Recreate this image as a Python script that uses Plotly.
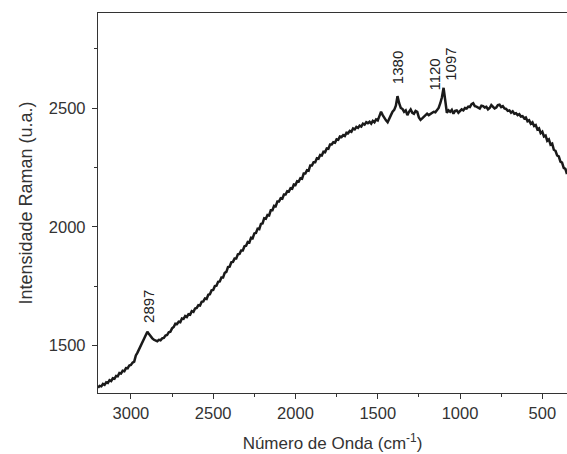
import plotly.graph_objects as go

wavenumber = [3200, 3190, 3180, 3170, 3160, 3150, 3140, 3130, 3120, 3110,
              3100, 3090, 3080, 3070, 3060, 3050, 3040, 3030, 3020, 3010,
              3000, 2990, 2980, 2970, 2960, 2950, 2940, 2930, 2920, 2910,
              2900, 2890, 2880, 2870, 2860, 2850, 2840, 2830, 2820, 2810,
              2800, 2790, 2780, 2770, 2760, 2750, 2740, 2730, 2720, 2710,
              2700, 2690, 2680, 2670, 2660, 2650, 2640, 2630, 2620, 2610,
              2600, 2590, 2580, 2570, 2560, 2550, 2540, 2530, 2520, 2510,
              2500, 2490, 2480, 2470, 2460, 2450, 2440, 2430, 2420, 2410,
              2400, 2390, 2380, 2370, 2360, 2350, 2340, 2330, 2320, 2310,
              2300, 2290, 2280, 2270, 2260, 2250, 2240, 2230, 2220, 2210,
              2200, 2190, 2180, 2170, 2160, 2150, 2140, 2130, 2120, 2110,
              2100, 2090, 2080, 2070, 2060, 2050, 2040, 2030, 2020, 2010,
              2000, 1990, 1980, 1970, 1960, 1950, 1940, 1930, 1920, 1910,
              1900, 1890, 1880, 1870, 1860, 1850, 1840, 1830, 1820, 1810,
              1800, 1790, 1780, 1770, 1760, 1750, 1740, 1730, 1720, 1710,
              1700, 1690, 1680, 1670, 1660, 1650, 1640, 1630, 1620, 1610,
              1600, 1590, 1580, 1570, 1560, 1550, 1540, 1530, 1520, 1510,
              1500, 1490, 1480, 1470, 1460, 1450, 1440, 1430, 1420, 1410,
              1400, 1390, 1380, 1370, 1360, 1350, 1340, 1330, 1320, 1310,
              1300, 1290, 1280, 1270, 1260, 1250, 1240, 1230, 1220, 1210,
              1200, 1190, 1180, 1170, 1160, 1150, 1140, 1130, 1120, 1110,
              1100, 1090, 1080, 1070, 1060, 1050, 1040, 1030, 1020, 1010,
              1000, 990, 980, 970, 960, 950, 940, 930, 920, 910,
              900, 890, 880, 870, 860, 850, 840, 830, 820, 810,
              800, 790, 780, 770, 760, 750, 740, 730, 720, 710,
              700, 690, 680, 670, 660, 650, 640, 630, 620, 610,
              600, 590, 580, 570, 560, 550, 540, 530, 520, 510,
              500, 490, 480, 470, 460, 450, 440, 430, 420, 410,
              400, 390, 380, 370, 360, 350]

intensity = [1322, 1330, 1328, 1338, 1334, 1345, 1342, 1354, 1350, 1362,
             1360, 1372, 1370, 1384, 1382, 1394, 1392, 1405, 1404, 1416,
             1418, 1428, 1432, 1458, 1470, 1486, 1498, 1514, 1528, 1544,
             1558, 1548, 1536, 1530, 1524, 1522, 1518, 1524, 1522, 1530,
             1532, 1542, 1544, 1556, 1558, 1572, 1578, 1592, 1590, 1600,
             1598, 1614, 1612, 1624, 1620, 1632, 1630, 1645, 1642, 1656,
             1658, 1670, 1668, 1684, 1686, 1698, 1696, 1714, 1716, 1732,
             1734, 1750, 1752, 1768, 1770, 1786, 1786, 1806, 1810, 1830,
             1832, 1850, 1852, 1866, 1866, 1884, 1886, 1900, 1900, 1918,
             1920, 1936, 1934, 1954, 1952, 1972, 1974, 1992, 1990, 2012,
             2014, 2036, 2034, 2050, 2048, 2070, 2070, 2088, 2086, 2106,
             2106, 2120, 2118, 2136, 2136, 2150, 2148, 2162, 2160, 2178,
             2176, 2192, 2190, 2204, 2202, 2224, 2224, 2238, 2236, 2258,
             2258, 2272, 2272, 2288, 2286, 2302, 2300, 2316, 2314, 2330,
             2328, 2346, 2346, 2356, 2354, 2368, 2366, 2380, 2378, 2386,
             2382, 2396, 2394, 2404, 2400, 2414, 2410, 2420, 2416, 2426,
             2422, 2434, 2430, 2440, 2436, 2442, 2434, 2446, 2440, 2452,
             2448, 2466, 2484, 2470, 2456, 2448, 2440, 2458, 2470, 2484,
             2492, 2510, 2550, 2520, 2500, 2496, 2484, 2490, 2470, 2484,
             2494, 2480, 2476, 2488, 2484, 2460, 2450, 2456, 2462, 2470,
             2476, 2470, 2474, 2480, 2484, 2482, 2490, 2500, 2520, 2545,
             2585, 2540, 2480, 2490, 2484, 2492, 2476, 2488, 2490, 2480,
             2486, 2494, 2490, 2500, 2498, 2506, 2504, 2516, 2520, 2508,
             2506, 2500, 2498, 2510, 2508, 2502, 2505, 2494, 2500, 2512,
             2506, 2498, 2502, 2512, 2514, 2504, 2508, 2498, 2496, 2488,
             2490, 2480, 2486, 2476, 2478, 2470, 2474, 2464, 2466, 2456,
             2460, 2444, 2448, 2434, 2440, 2424, 2428, 2410, 2414, 2394,
             2400, 2380, 2384, 2362, 2368, 2346, 2350, 2324, 2320, 2300,
             2296, 2274, 2270, 2248, 2244, 2222]

peak_labels = ["2897", "1380", "1120", "1097"]
peak_label_x = [2897, 1380, 1155, 1060]
peak_label_y = [1588, 2592, 2563, 2605]

x_tick_vals = [3000, 2500, 2000, 1500, 1000, 500]
y_tick_vals = [1500, 2000, 2500]

FONT = "Liberation Sans, Arial, sans-serif"
AX = "#333333"

fig = go.Figure()
fig.add_trace(go.Scatter(x=wavenumber, y=intensity, mode="lines",
                         line=dict(color="#1a1a1a", width=2.5),
                         showlegend=False, hoverinfo="skip"))

for t, xx, yy in zip(peak_labels, peak_label_x, peak_label_y):
    fig.add_annotation(x=xx, y=yy, text=t, showarrow=False, textangle=-90,
                       xanchor="center", yanchor="bottom",
                       font=dict(family=FONT, size=15, color="#222222"))

fig.update_layout(
    width=567, height=454,
    margin=dict(l=98, r=0, t=13, b=61, autoexpand=False),
    paper_bgcolor="white", plot_bgcolor="white",
    font=dict(family=FONT, color=AX),
)
fig.update_xaxes(
    range=[3200, 350], tickvals=x_tick_vals, automargin=False,
    showline=True, linecolor=AX, linewidth=1.3, mirror=True,
    ticks="outside", ticklen=5, tickwidth=1.2, tickcolor=AX,
    minor=dict(ticks="outside", ticklen=3, tickwidth=1.2, tickcolor=AX, dtick=250, tick0=0),
    showgrid=False, zeroline=False,
    tickfont=dict(size=16.5, family=FONT, color=AX),
    title=dict(text="Número de Onda (cm<sup>-1</sup>)", font=dict(size=17, family=FONT, color=AX), standoff=16),
)
fig.update_yaxes(
    range=[1300, 2900], tickvals=y_tick_vals, automargin=False,
    showline=True, linecolor=AX, linewidth=1.3, mirror=False,
    ticks="outside", ticklen=5, tickwidth=1.2, tickcolor=AX,
    minor=dict(ticks="outside", ticklen=3, tickwidth=1.2, tickcolor=AX, dtick=250, tick0=0),
    showgrid=False, zeroline=False, ticklabelstandoff=3,
    tickfont=dict(size=16.5, family=FONT, color=AX),
    title=dict(text="Intensidade Raman (u.a.)", font=dict(size=18, family=FONT, color=AX), standoff=11),
)

fig.write_html(
    "out.html",
    config={"displayModeBar": False},
    post_script="document.body.style.margin='0';document.documentElement.style.overflow='hidden';",
)
